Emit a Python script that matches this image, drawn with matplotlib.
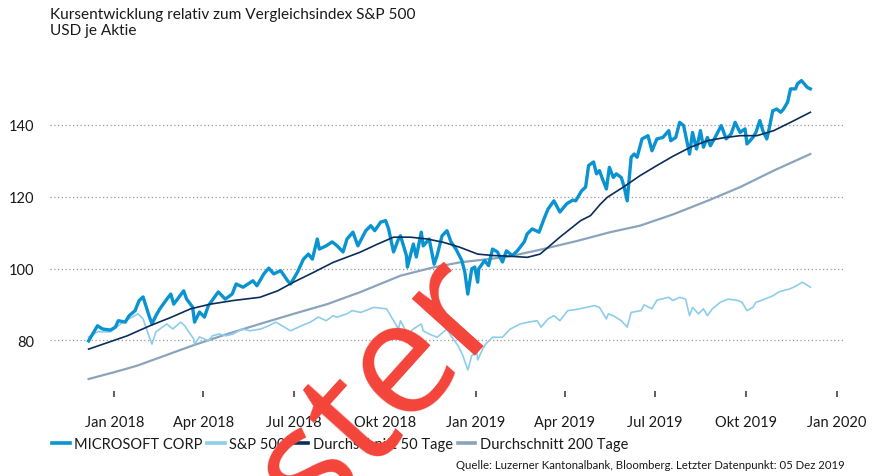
import matplotlib
matplotlib.use("Agg")
import matplotlib.pyplot as plt
import pandas as pd

# ---------------- data ----------------
msft_dates = [
    "2017-12-06", "2017-12-13", "2017-12-15", "2017-12-20", "2017-12-28",
    "2018-01-02", "2018-01-05", "2018-01-12", "2018-01-16", "2018-01-22", "2018-01-26", "2018-01-30",
    "2018-02-05", "2018-02-08", "2018-02-12", "2018-02-16", "2018-02-23", "2018-02-27",
    "2018-03-02", "2018-03-12", "2018-03-15", "2018-03-21", "2018-03-23", "2018-03-28",
    "2018-04-02", "2018-04-06", "2018-04-16", "2018-04-23", "2018-04-30",
    "2018-05-04", "2018-05-11", "2018-05-21", "2018-05-25",
    "2018-06-01", "2018-06-06", "2018-06-11", "2018-06-18", "2018-06-25", "2018-06-28",
    "2018-07-05", "2018-07-11", "2018-07-16", "2018-07-20", "2018-07-25", "2018-07-27",
    "2018-08-03", "2018-08-09", "2018-08-14", "2018-08-20", "2018-08-24", "2018-08-30",
    "2018-09-04", "2018-09-06", "2018-09-12", "2018-09-17", "2018-09-21", "2018-09-27",
    "2018-10-02", "2018-10-05", "2018-10-10", "2018-10-15", "2018-10-17", "2018-10-23", "2018-10-24", "2018-10-30",
    "2018-11-02", "2018-11-07", "2018-11-09", "2018-11-15", "2018-11-20", "2018-11-23", "2018-11-28",
    "2018-12-03", "2018-12-07", "2018-12-12", "2018-12-18", "2018-12-21", "2018-12-24", "2018-12-28", "2018-12-31",
    "2019-01-03", "2019-01-04", "2019-01-10", "2019-01-14", "2019-01-18", "2019-01-23", "2019-01-28",
    "2019-02-01", "2019-02-07", "2019-02-12", "2019-02-19", "2019-02-22", "2019-02-27",
    "2019-03-06", "2019-03-11", "2019-03-15", "2019-03-21", "2019-03-27",
    "2019-04-03", "2019-04-09", "2019-04-12", "2019-04-18", "2019-04-22", "2019-04-25", "2019-04-30",
    "2019-05-03", "2019-05-06", "2019-05-09", "2019-05-13", "2019-05-16", "2019-05-20", "2019-05-23", "2019-05-28", "2019-05-31",
    "2019-06-03", "2019-06-07", "2019-06-10", "2019-06-13", "2019-06-18", "2019-06-24", "2019-06-28",
    "2019-07-03", "2019-07-09", "2019-07-15", "2019-07-17", "2019-07-22", "2019-07-26", "2019-07-30",
    "2019-08-05", "2019-08-08", "2019-08-12", "2019-08-16", "2019-08-19", "2019-08-23", "2019-08-26", "2019-08-30",
    "2019-09-06", "2019-09-11", "2019-09-16", "2019-09-20", "2019-09-25", "2019-09-30",
    "2019-10-02", "2019-10-08", "2019-10-11", "2019-10-15", "2019-10-18", "2019-10-22", "2019-10-24", "2019-10-28",
    "2019-11-01", "2019-11-05", "2019-11-08", "2019-11-12", "2019-11-15", "2019-11-20", "2019-11-22", "2019-11-26",
    "2019-12-02", "2019-12-05",
]
msft_values = [
    79.9, 83.2, 84.1, 83.2, 82.9,
    83.7, 85.5, 85.1, 86.9, 88.3, 91.1, 92.1,
    86.9, 84.6, 86.9, 88.8, 91.5, 92.9,
    90.1, 93.8, 91.5, 89.3, 85.1, 87.9,
    86.5, 89.7, 93.5, 91.5, 92.9,
    95.7, 94.8, 96.6, 95.2,
    98.5, 100.1, 98.5, 99.4, 96.6, 95.7,
    99.0, 102.6, 104.0, 102.6, 108.2, 105.4,
    106.3, 107.4, 106.3, 104.6, 108.2, 110.1,
    106.3, 107.4, 110.5, 111.9, 110.5, 112.9,
    113.3, 111.0, 104.6, 108.2, 109.1, 103.6, 100.4, 106.8,
    103.2, 110.1, 106.3, 108.2, 101.2, 103.6, 109.1,
    110.5, 107.4, 105.4, 102.2, 99.0, 92.9, 99.9, 100.4,
    96.2, 99.9, 102.2, 100.8, 105.4, 104.6, 101.8,
    104.9, 103.6, 104.9, 107.4, 109.6, 111.0,
    110.1, 113.8, 116.5, 118.8, 115.7,
    118.0, 119.0, 118.8, 121.6, 122.6, 128.6, 129.6,
    126.3, 127.2, 124.9, 122.1, 128.1, 125.3, 126.3, 125.3, 122.6,
    118.8, 130.9, 131.8, 130.9, 136.0, 136.9, 132.7,
    136.0, 136.4, 138.3, 135.5, 136.4, 140.6, 139.7,
    131.8, 137.8, 133.2, 138.3, 133.7, 136.4, 134.1, 136.0,
    139.7, 136.0, 137.4, 140.6, 137.8, 138.8,
    134.6, 136.4, 137.8, 141.1, 138.3, 136.0, 138.3, 143.8,
    144.3, 143.4, 144.3, 146.2, 149.9, 149.9, 151.3, 152.2,
    150.3, 149.9,
]

spx_dates = [
    "2017-12-06", "2017-12-15", "2017-12-28",
    "2018-01-05", "2018-01-12", "2018-01-25", "2018-01-30",
    "2018-02-06", "2018-02-08", "2018-02-12", "2018-02-16", "2018-02-23",
    "2018-03-01", "2018-03-09", "2018-03-13", "2018-03-22", "2018-03-23", "2018-03-28",
    "2018-04-06", "2018-04-10", "2018-04-17", "2018-04-24",
    "2018-05-01", "2018-05-10", "2018-05-18", "2018-05-29",
    "2018-06-06", "2018-06-13", "2018-06-28",
    "2018-07-09", "2018-07-18", "2018-07-26",
    "2018-08-03", "2018-08-10", "2018-08-14", "2018-08-24", "2018-08-29",
    "2018-09-07", "2018-09-20",
    "2018-10-03", "2018-10-10", "2018-10-15", "2018-10-17", "2018-10-24", "2018-10-30",
    "2018-11-07", "2018-11-09", "2018-11-15", "2018-11-23",
    "2018-12-03", "2018-12-07", "2018-12-14", "2018-12-19", "2018-12-24", "2018-12-28",
    "2019-01-02", "2019-01-03", "2019-01-08", "2019-01-11", "2019-01-18", "2019-01-28",
    "2019-02-05", "2019-02-15", "2019-02-25",
    "2019-03-04", "2019-03-08", "2019-03-15", "2019-03-21", "2019-03-27",
    "2019-04-04", "2019-04-12", "2019-04-23",
    "2019-05-01", "2019-05-06", "2019-05-13", "2019-05-15", "2019-05-20", "2019-05-28",
    "2019-06-03", "2019-06-07", "2019-06-17", "2019-06-20", "2019-06-28",
    "2019-07-03", "2019-07-15", "2019-07-19", "2019-07-26",
    "2019-08-01", "2019-08-05", "2019-08-08", "2019-08-14", "2019-08-19", "2019-08-23", "2019-08-28",
    "2019-09-05", "2019-09-13", "2019-09-23", "2019-09-27",
    "2019-10-02", "2019-10-08", "2019-10-11", "2019-10-18", "2019-10-28",
    "2019-11-04", "2019-11-14", "2019-11-21", "2019-11-27",
    "2019-12-05",
]
spx_values = [
    81.0, 82.4, 82.4,
    84.1, 85.5, 87.4, 86.0,
    80.4, 79.0, 82.4, 83.2, 84.6,
    83.2, 85.1, 84.1, 80.5, 79.0, 81.0,
    79.9, 81.3, 81.8, 81.3,
    81.8, 83.2, 82.7, 83.2,
    84.1, 85.1, 82.7,
    84.1, 85.1, 86.5,
    85.5, 86.9, 86.5, 87.4, 88.3,
    87.8, 89.2,
    88.8, 85.5, 83.2, 85.5, 81.8, 83.2,
    84.6, 82.7, 81.8, 80.9,
    83.2, 81.3, 78.6, 75.8, 71.8, 75.8,
    76.7, 74.6, 77.6, 79.0, 80.9, 80.9,
    83.2, 84.6, 85.2,
    85.5, 83.7, 86.0, 86.9, 85.5,
    88.3, 88.6, 89.2,
    89.7, 89.2, 86.0, 87.4, 86.9, 85.5,
    83.7, 87.8, 88.3, 89.9, 88.8,
    91.2, 92.0, 91.1, 92.0,
    91.5, 86.9, 89.2, 87.4, 88.8, 86.9, 88.8,
    90.6, 91.5, 91.1, 90.6,
    88.3, 89.2, 90.6, 91.3, 92.4,
    93.6, 94.3, 95.2, 96.2,
    94.8,
]

ma50_dates = [
    "2017-12-06", "2018-01-14", "2018-02-06", "2018-02-27", "2018-03-19", "2018-04-08",
    "2018-05-01", "2018-05-28", "2018-06-15", "2018-07-01", "2018-07-21", "2018-08-10",
    "2018-09-06", "2018-09-24", "2018-10-10", "2018-10-27", "2018-11-13", "2018-11-29",
    "2018-12-16", "2019-01-03", "2019-01-19", "2019-02-05", "2019-02-22", "2019-03-07",
    "2019-03-27", "2019-04-17", "2019-04-27", "2019-05-07", "2019-05-14", "2019-05-30",
    "2019-06-16", "2019-07-03", "2019-07-20", "2019-08-06", "2019-08-23", "2019-09-08",
    "2019-09-25", "2019-10-12", "2019-10-29", "2019-11-15", "2019-12-05",
]
ma50_values = [
    77.6, 81.3, 84.1, 86.4, 88.8, 90.1,
    91.1, 92.0, 93.8, 96.2, 98.9, 101.7,
    104.5, 106.8, 108.7, 108.7, 108.2, 107.3,
    105.9, 104.0, 103.6, 103.4, 103.1, 104.0,
    108.7, 113.3, 114.7, 117.9, 119.8, 122.6,
    125.8, 128.6, 131.3, 133.7, 135.5, 136.3,
    136.9, 136.9, 138.3, 140.6, 143.4,
]

ma200_dates = [
    "2017-12-06", "2018-01-01", "2018-01-24", "2018-02-16", "2018-03-21", "2018-04-25",
    "2018-05-28", "2018-07-01", "2018-08-04", "2018-09-06", "2018-10-17", "2018-11-19",
    "2018-12-16", "2019-01-26", "2019-02-05", "2019-03-10", "2019-04-14", "2019-05-17",
    "2019-06-16", "2019-07-20", "2019-08-23", "2019-09-25", "2019-10-29", "2019-12-05",
]
ma200_values = [
    69.3, 71.2, 73.0, 75.3, 78.6, 81.8,
    84.6, 87.4, 90.1, 93.4, 98.0, 100.3,
    101.7, 103.0, 103.4, 105.4, 107.7, 110.1,
    111.9, 115.1, 118.8, 122.6, 127.2, 131.8,
]

tick_dates = ["2018-01-01", "2018-04-01", "2018-07-01", "2018-10-01", "2019-01-01",
              "2019-04-01", "2019-07-01", "2019-10-01", "2020-01-01"]
tick_labels = ["Jan 2018", "Apr 2018", "Jul 2018", "Okt 2018", "Jan 2019",
               "Apr 2019", "Jul 2019", "Okt 2019", "Jan 2020"]
y_ticks = [80, 100, 120, 140]

series_labels = ["MICROSOFT CORP", "S&P 500", "Durchschnitt 50 Tage", "Durchschnitt 200 Tage"]

# ---------------- style ----------------
FONT = "Lato"
plt.rcParams["font.family"] = [FONT, "DejaVu Sans"]

C_MSFT = "#0a93d1"
C_SPX = "#8dcdeb"
C_MA50 = "#0c2d5a"
C_MA200 = "#8ba4bc"
TXT = "#1a1a1a"

W, H = 877, 477
fig = plt.figure(figsize=(W / 100, H / 100), dpi=100)
ax = fig.add_axes([50 / W, 85 / H, 795 / W, 332 / H])

ax.plot(pd.to_datetime(ma200_dates), ma200_values, color=C_MA200, lw=1.6, label=series_labels[3], zorder=3)
ax.plot(pd.to_datetime(spx_dates), spx_values, color=C_SPX, lw=1.2, label=series_labels[1], zorder=4)
ax.plot(pd.to_datetime(msft_dates), msft_values, color=C_MSFT, lw=2.4, label=series_labels[0], zorder=5,
        solid_joinstyle="round")
ax.plot(pd.to_datetime(ma50_dates), ma50_values, color=C_MA50, lw=1.2, label=series_labels[2], zorder=6)

ax.set_xlim(pd.Timestamp("2017-10-28"), pd.Timestamp("2020-01-09"))
ax.set_ylim(65.97, 158.2)

ax.set_xticks(pd.to_datetime(tick_dates))
ax.set_xticklabels(tick_labels)
ax.set_yticks(y_ticks)
ax.set_yticklabels([str(v) for v in y_ticks])

for s in ax.spines.values():
    s.set_visible(False)
ax.tick_params(axis="x", direction="out", length=4, width=1.1, color="#333333",
               pad=13, labelsize=10.5, labelcolor=TXT)
ax.tick_params(axis="y", length=0, pad=11, labelsize=10.5, labelcolor=TXT)
ax.yaxis.grid(True, linestyle=(0, (1, 2)), color="#9a9a9a", linewidth=0.9)
ax.set_axisbelow(True)

# titles
fig.text(50 / W, 1 - 8 / H, "Kursentwicklung relativ zum Vergleichsindex S&P 500",
         ha="left", va="top", fontsize=11.1, color=TXT)
fig.text(50 / W, 1 - 24 / H, "USD je Aktie", ha="left", va="top", fontsize=11.1, color=TXT)

# legend
handles, labels = ax.get_legend_handles_labels()
order = [labels.index(l) for l in series_labels]
leg = fig.legend([handles[i] for i in order], [labels[i] for i in order],
                 loc="center left", bbox_to_anchor=(52 / W, 1 - 445 / H), ncol=4,
                 frameon=False, fontsize=10.5, handlelength=1.2, handletextpad=0.3,
                 columnspacing=0.35, borderpad=0, borderaxespad=0)
for line in leg.get_lines():
    line.set_linewidth(2.6)
for t in leg.get_texts():
    t.set_color(TXT)

# source
fig.text(845 / W, 1 - 466 / H,
         "Quelle: Luzerner Kantonalbank, Bloomberg. Letzter Datenpunkt: 05 Dez 2019",
         ha="right", va="center", fontsize=8.2, color=TXT)

# watermark
fig.text(328 / W, 1 - 502 / H, "Muster", rotation=48, rotation_mode="anchor",
         ha="center", va="baseline", fontsize=115, color="#f4443a", zorder=20,
         family=["Open Sans", "DejaVu Sans"])

fig.savefig("out.png", dpi=100)
